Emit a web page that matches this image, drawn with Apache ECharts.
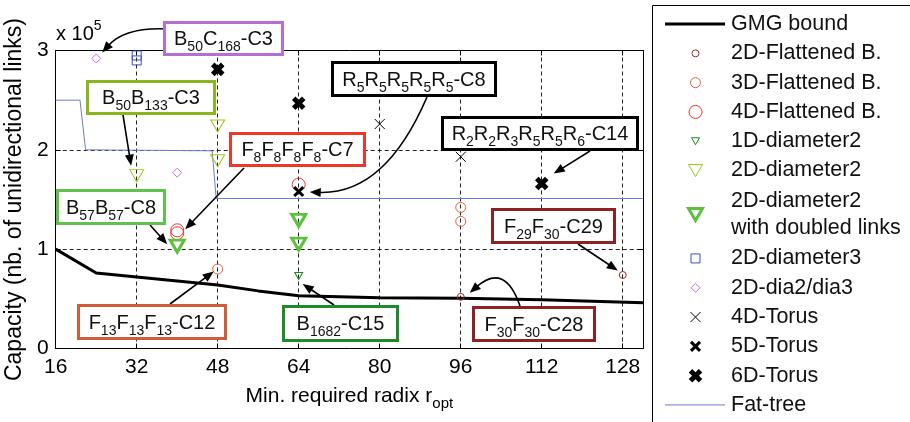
<!DOCTYPE html>
<html><head><meta charset="utf-8">
<script src="https://cdn.jsdelivr.net/npm/echarts@6/dist/echarts.min.js"></script>
<style>html,body{margin:0;padding:0;background:#fff}#c{width:910px;height:422px}</style>
</head><body><div id="c"></div>
<script>
// ---------------- data ----------------
const xTickValues = [16, 32, 48, 64, 80, 96, 112, 128];
const yTickValues = [0, 1, 2, 3];
const gmgBound     = [[16,1.0],[24,0.76],[32,0.72],[40,0.68],[48,0.64],[56,0.58],[64,0.53],[80,0.51],[96,0.505],[112,0.49],[132,0.46]];
const fatTree      = [[16,2.5],[20.8,2.5],[21.9,2.0],[46.9,1.99],[47.7,1.51],[132,1.51]];
const flat2D       = [[96,0.52],[128,0.74]];
const flat3D       = [[48,0.80],[96,1.42],[96,1.28]];
const flat4D       = [[40,1.19],[40,1.16],[64,1.65]];
const diam2_1D     = [[64,0.73]];
const diam2_2D     = [[32,1.74],[48,2.24],[48,1.89]];
const diam2Doubled = [[40,1.03],[64,1.29],[64,1.05]];
const diam3_2D     = [[32,2.95],[32,2.90]];
const dia23_2D     = [[24,2.92],[40,1.77]];
const torus4D      = [[80,2.26],[96,1.93]];
const torus5D      = [[64,1.58]];
const torus6D      = [[48,2.81],[64,2.47],[112,1.66]];

const annotLabels  = ['B_{50}C_{168}-C3','B_{50}B_{133}-C3','F_{8}F_{8}F_{8}F_{8}-C7','R_{5}R_{5}R_{5}R_{5}R_{5}-C8',
                      'R_{2}R_{2}R_{3}R_{5}R_{5}R_{6}-C14','B_{57}B_{57}-C8','F_{13}F_{13}F_{13}-C12','B_{1682}-C15',
                      'F_{29}F_{30}-C29','F_{30}F_{30}-C28'];
const annotTargets = [dia23_2D[0], diam2_2D[0], flat4D[0], torus5D[0], torus6D[2], diam2Doubled[0],
                      flat3D[0], diam2_1D[0], flat2D[1], flat2D[0]];

// ---------------- styles / layout ----------------
const F = "'Liberation Sans', Arial, Helvetica, sans-serif";
const XPATH = 'path://M0,0L10,10M10,0L0,10';
const seriesDefs = [
  {name:'GMG bound', type:'line', data:gmgBound, lw:3, color:'#000', z:3},
  {name:'2D-Flattened B.', type:'scatter', data:flat2D, symbol:'circle', size:7, color:'#9e2a2a', bw:1},
  {name:'3D-Flattened B.', type:'scatter', data:flat3D, symbol:'circle', size:10, color:'#e0603f', bw:1},
  {name:'4D-Flattened B.', type:'scatter', data:flat4D, symbol:'circle', size:13, color:'#ee3530', bw:1},
  {name:'1D-diameter2', type:'scatter', data:diam2_1D, symbol:'triangle', rot:180, size:[8,7], color:'#1a8a1a', bw:1},
  {name:'2D-diameter2', type:'scatter', data:diam2_2D, symbol:'triangle', rot:180, size:[14,12], color:'#9dc61c', bw:1},
  {name:'2D-diameter2\nwith doubled links', type:'scatter', data:diam2Doubled, symbol:'triangle', rot:180, size:[14,12], color:'#5cc23e', bw:3},
  {name:'2D-diameter3', type:'scatter', data:diam3_2D, symbol:'rect', size:9, color:'#3b4fc4', bw:1},
  {name:'2D-dia2/dia3', type:'scatter', data:dia23_2D, symbol:'diamond', size:9, color:'#c070dd', bw:1},
  {name:'4D-Torus', type:'scatter', data:torus4D, symbol:XPATH, size:10, color:'#000', bw:1},
  {name:'5D-Torus', type:'scatter', data:torus5D, symbol:XPATH, size:9, color:'#000', bw:3},
  {name:'6D-Torus', type:'scatter', data:torus6D, symbol:XPATH, size:10, color:'#000', bw:5},
  {name:'Fat-tree', type:'line', data:fatTree, lw:1, color:'#6b7dd0', z:2}
];
const legendRows = [1,1,1,1,1,1,2,1,1,1,1,1,1];
const legendRowH = 29.3, legendTop0 = 9.4, legendIconCx = 695.5, legendTextX = 731;

const annotLayout = [
  {box:[163,21,121,35], color:'#b56fcf', from:[167,29], ctrl:[125,27], tipOff:[6,-6]},
  {box:[86,80,130,35],  color:'#8ab51c', from:[123,115], tipOff:[-5.6,-10]},
  {box:[229,132,137,35],color:'#e8392c', from:[244,168], tipOff:[8,-1]},
  {box:[331,61,166,36], color:'#000',    from:[427,97], ctrl:[385,195], tipOff:[11,0.5]},
  {box:[441,116,198,35],color:'#000',    from:[590,151], tipOff:[12,-10]},
  {box:[56,189,110,36], color:'#5fc24c', from:[150,225], tipOff:[-10,-2]},
  {box:[77,304,150,36], color:'#cc5e3c', from:[170,304], tipOff:[-4,2.5]},
  {box:[282,305,117,37],color:'#1e8c2a', from:[334,305], tipOff:[4,8]},
  {box:[491,208,125,36],color:'#8c2224', from:[578,244], tipOff:[-5,-4.5]},
  {box:[472,306,124,36],color:'#8c2224', from:[520,306], ctrl:[505,262], tipOff:[9,-4]}
];

function toRich(s){
  let out='', re=/_\{([^}]*)\}/g, last=0, m;
  while((m=re.exec(s))){ if(m.index>last) out+='{m|'+s.slice(last,m.index)+'}'; out+='{s|'+m[1]+'}'; last=re.lastIndex; }
  if(last<s.length) out+='{m|'+s.slice(last)+'}';
  return out;
}

// ---------------- chart ----------------
const chart = echarts.init(document.getElementById('c'), null, {renderer:'canvas'});
const series = seriesDefs.map(d => d.type==='line' ? {
  name:d.name, type:'line', data:d.data, symbol:'none', showSymbol:false, z:d.z,
  lineStyle:{color:d.color, width:d.lw}, itemStyle:{color:d.color}, silent:true, animation:false
} : {
  name:d.name, type:'scatter', data:d.data, symbol:d.symbol, symbolSize:d.size, symbolRotate:d.rot||0, z:4,
  itemStyle:{color:'none', borderColor:d.color, borderWidth:d.bw, opacity:1}, silent:true, animation:false
});

const axisCommon = {
  axisLine:{show:true, onZero:false, lineStyle:{color:'#000', width:1}},
  axisTick:{show:true, inside:true, length:5, lineStyle:{color:'#000', width:1}}
};
const option = {
  animation:false,
  backgroundColor:'#fff',
  grid:{left:55.7, right:267, top:50.5, bottom:73.5, outerBoundsMode:'none', containLabel:false},
  xAxis:[
    Object.assign({type:'value', min:xTickValues[0], max:132, interval:16, position:'bottom',
      axisLabel:{fontSize:21, color:'#000', margin:8, fontFamily:F, showMaxLabel:false},
      splitLine:{show:true, lineStyle:{color:'#222', width:1, type:[4,3]}},
      name:'{m|Min. required radix r}{s|opt}', nameLocation:'middle', nameGap:33,
      nameTextStyle:{fontFamily:F, color:'#000', rich:{
        m:{fontSize:21, lineHeight:30, fontFamily:F, color:'#000'},
        s:{fontSize:15, lineHeight:15, verticalAlign:'bottom', fontFamily:F, color:'#000'}}}
    }, axisCommon),
    Object.assign({type:'value', min:xTickValues[0], max:132, interval:16, position:'top',
      axisLabel:{show:false}, splitLine:{show:false}}, axisCommon)
  ],
  yAxis:[
    Object.assign({type:'value', min:yTickValues[0], max:yTickValues[yTickValues.length-1], interval:1, position:'left',
      axisLabel:{fontSize:21, color:'#000', margin:7, fontFamily:F},
      splitLine:{show:true, lineStyle:{color:'#222', width:1, type:[4,3]}},
      name:'Capacity (nb. of unidirectional links)', nameLocation:'middle', nameGap:27, nameRotate:90,
      nameTextStyle:{fontSize:23, color:'#000', fontFamily:F}
    }, axisCommon),
    Object.assign({type:'value', min:0, max:3, interval:1, position:'right',
      axisLabel:{show:false}, splitLine:{show:false}}, axisCommon)
  ],
  series: series
};
chart.setOption(option);

// ---------------- graphic overlays ----------------
const richText = {
  m:{fontSize:20, lineHeight:30, fontFamily:F, fill:'#111'},
  s:{fontSize:14, lineHeight:14, verticalAlign:'bottom', fontFamily:F, fill:'#111'}
};
const g = [];
// legend frame
g.push({type:'rect', shape:{x:652.5, y:5.5, width:300, height:500}, style:{fill:'#fff', stroke:'#000', lineWidth:1}, z:1, silent:true});
// legend entries (styles taken from the series definitions)
let cum = legendTop0;
seriesDefs.forEach((d,i) => {
  const cy = cum + legendRows[i]*legendRowH/2; cum += legendRows[i]*legendRowH;
  const cx = legendIconCx;
  const st = {fill:'none', stroke:d.color, lineWidth:d.type==='line'?d.lw:d.bw};
  const w = Array.isArray(d.size) ? d.size[0] : d.size, h = Array.isArray(d.size) ? d.size[1] : d.size;
  if (d.type==='line') {
    g.push({type:'line', z:5, silent:true, shape:{x1:665, y1:cy, x2:725, y2:cy}, style:st});
  } else if (d.symbol==='circle') {
    g.push({type:'circle', z:5, silent:true, shape:{cx:cx, cy:cy, r:w/2}, style:st});
  } else if (d.symbol==='triangle') {
    g.push({type:'polygon', z:5, silent:true, shape:{points:[[cx-w/2,cy-h/2],[cx+w/2,cy-h/2],[cx,cy+h/2]]}, style:st});
  } else if (d.symbol==='rect') {
    g.push({type:'rect', z:5, silent:true, shape:{x:cx-w/2, y:cy-h/2, width:w, height:h}, style:st});
  } else if (d.symbol==='diamond') {
    g.push({type:'polygon', z:5, silent:true, shape:{points:[[cx,cy-h/2],[cx+w/2,cy],[cx,cy+h/2],[cx-w/2,cy]]}, style:st});
  } else {
    g.push({type:'line', z:5, silent:true, shape:{x1:cx-w/2, y1:cy-h/2, x2:cx+w/2, y2:cy+h/2}, style:st});
    g.push({type:'line', z:5, silent:true, shape:{x1:cx+w/2, y1:cy-h/2, x2:cx-w/2, y2:cy+h/2}, style:st});
  }
  g.push({type:'text', z:5, silent:true, x:legendTextX, y:cy, style:{text:d.name, align:'left', verticalAlign:'middle',
    fontSize:21.5, fontFamily:F, fill:'#111', lineHeight: legendRows[i]>1 ? 27.6 : legendRowH}});
});
// "x 10^5"
g.push({type:'text', x:56, y:34, z:50, silent:true, style:{text:'{m|x 10}{p|5}', align:'left', verticalAlign:'middle', fill:'#000',
  rich:{m:{fontSize:20, lineHeight:30, fontFamily:F, fill:'#000'}, p:{fontSize:14, lineHeight:14, verticalAlign:'top', fontFamily:F, fill:'#000'}}}});

// annotations: boxes + arrows, arrow tips located through the axes
annotLabels.forEach((lab,i) => {
  const L = annotLayout[i];
  const p = chart.convertToPixel({xAxisIndex:0, yAxisIndex:0}, annotTargets[i]);
  const tip = [p[0]+L.tipOff[0], p[1]+L.tipOff[1]];
  const dirFrom = L.ctrl || L.from;
  let dx = tip[0]-dirFrom[0], dy = tip[1]-dirFrom[1];
  const len = Math.hypot(dx,dy); dx/=len; dy/=len;
  const hl = 11, hw = 4.5;
  const base = [tip[0]-dx*hl, tip[1]-dy*hl];
  const endLine = [tip[0]-dx*(hl-2), tip[1]-dy*(hl-2)];
  if (L.ctrl) {
    g.push({type:'bezierCurve', z:60, silent:true, shape:{x1:L.from[0], y1:L.from[1], cpx1:L.ctrl[0], cpy1:L.ctrl[1], x2:endLine[0], y2:endLine[1]},
      style:{stroke:'#000', lineWidth:1.6, fill:null}});
  } else {
    g.push({type:'line', z:60, silent:true, shape:{x1:L.from[0], y1:L.from[1], x2:endLine[0], y2:endLine[1]}, style:{stroke:'#000', lineWidth:1.6}});
  }
  g.push({type:'polygon', z:61, silent:true, shape:{points:[tip, [base[0]-dy*hw, base[1]+dx*hw], [base[0]+dy*hw, base[1]-dx*hw]]}, style:{fill:'#000'}});
  const b = L.box;
  g.push({type:'rect', z:70, silent:true, shape:{x:b[0]+1.5, y:b[1]+1.5, width:b[2]-3, height:b[3]-3}, style:{fill:'#fff', stroke:L.color, lineWidth:3}});
  g.push({type:'text', z:71, silent:true, x:b[0]+b[2]/2, y:b[1]+b[3]/2+1, style:{text:toRich(lab), rich:richText, align:'center', verticalAlign:'middle', fill:'#111'}});
});
chart.setOption({graphic:{elements:g}});
</script>
</body></html>
